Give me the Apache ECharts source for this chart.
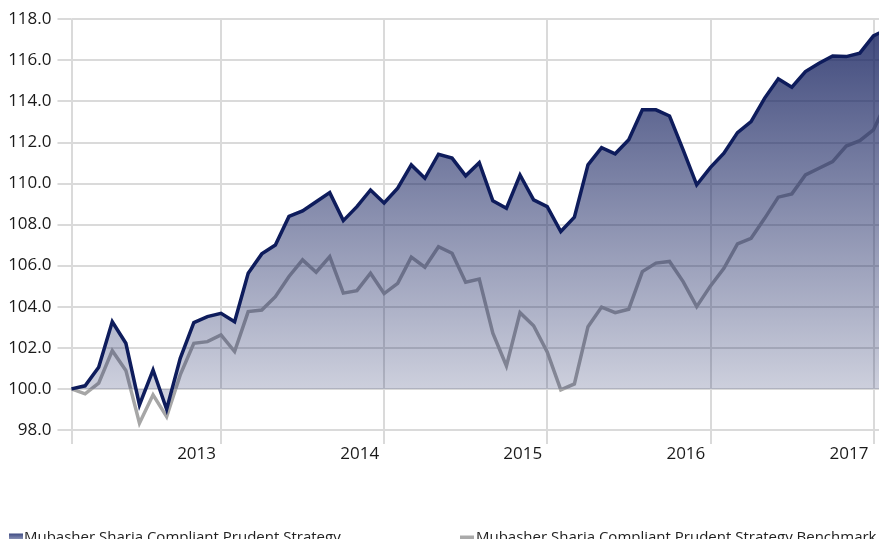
<!DOCTYPE html>
<html>
<head>
<meta charset="utf-8">
<script src="https://cdn.jsdelivr.net/npm/echarts@6/dist/echarts.min.js"></script>
<style>
html, body { margin: 0; padding: 0; background: #fff; }
#chart { width: 879px; height: 539px; }
</style>
</head>
<body>
<div id="chart"></div>
<script>
// monthly points, Feb 2012 .. Feb 2017
var months = [
	'2012-02','2012-03','2012-04','2012-05','2012-06','2012-07','2012-08','2012-09','2012-10','2012-11','2012-12',
	'2013-01','2013-02','2013-03','2013-04','2013-05','2013-06','2013-07','2013-08','2013-09','2013-10','2013-11','2013-12',
	'2014-01','2014-02','2014-03','2014-04','2014-05','2014-06','2014-07','2014-08','2014-09','2014-10','2014-11','2014-12',
	'2015-01','2015-02','2015-03','2015-04','2015-05','2015-06','2015-07','2015-08','2015-09','2015-10','2015-11','2015-12',
	'2016-01','2016-02','2016-03','2016-04','2016-05','2016-06','2016-07','2016-08','2016-09','2016-10','2016-11','2016-12',
	'2017-01','2017-02'
];
var strategy = [
	100.0, 100.15, 101.05, 103.27, 102.22, 99.22, 100.92, 99.01, 101.49, 103.23, 103.52, 103.68,
	103.27, 105.63, 106.57, 107.0, 108.39, 108.66, 109.11, 109.55, 108.19, 108.87, 109.68, 109.05,
	109.77, 110.9, 110.25, 111.42, 111.23, 110.37, 111.01, 109.15, 108.79, 110.41, 109.2, 108.87,
	107.66, 108.36, 110.9, 111.74, 111.44, 112.12, 113.58, 113.58, 113.28, 111.63, 109.93, 110.77,
	111.47, 112.47, 113.01, 114.15, 115.09, 114.68, 115.44, 115.85, 116.2, 116.17, 116.34, 117.18,
	117.5
];
var benchmark = [
	100.0, 99.76, 100.28, 101.86, 100.9, 98.33, 99.71, 98.65, 100.68, 102.22, 102.3, 102.63,
	101.82, 103.76, 103.84, 104.49, 105.47, 106.28, 105.68, 106.44, 104.66, 104.78, 105.63, 104.64,
	105.14, 106.41, 105.92, 106.92, 106.6, 105.19, 105.34, 102.71, 101.12, 103.71, 103.07, 101.8,
	99.95, 100.24, 103.03, 103.98, 103.71, 103.88, 105.71, 106.12, 106.2, 105.22, 104.0, 105.0,
	105.87, 107.06, 107.33, 108.3, 109.33, 109.49, 110.41, 110.74, 111.06, 111.82, 112.08, 112.6,
	114.0
];
var yTicks = { min: 98, max: 118, step: 2 };
var nameMain = 'Mubasher Sharia Compliant Prudent Strategy';
var nameBench = 'Mubasher Sharia Compliant Prudent Strategy Benchmark';

var gridGray = '#dadada';
var font = '"Open Sans", "Noto Sans", sans-serif';

function isYearStart(index, value) {
	return index === 0 || value.slice(5) === '01';
}

var areaFill = new echarts.graphic.LinearGradient(0, 0, 0, 1, [
	{ offset: 0, color: 'rgba(22,34,96,0.82)' },
	{ offset: 1, color: 'rgba(22,34,96,0.18)' }
]);
var iconFill = new echarts.graphic.LinearGradient(0, 0, 0, 1, [
	{ offset: 0, color: '#3d4a82' },
	{ offset: 1, color: '#a9afcb' }
]);

var chart = echarts.init(document.getElementById('chart'));
var option = {
	animation: false,
	backgroundColor: '#fff',
	textStyle: { fontFamily: font },
	grid: {
		left: 71.5, right: -8, top: 19, bottom: 109,
		containLabel: false, outerBoundsMode: 'none'
	},
	legend: [
		{
			left: 4, top: 525,
			itemWidth: 14, itemHeight: 8, itemGap: 4,
			textStyle: { fontSize: 15, color: '#222', fontFamily: font, padding: [0, 0, 0, -4] },
			data: [{ name: nameMain, icon: 'rect', itemStyle: { color: iconFill } }],
			selectedMode: false
		},
		{
			left: 455, top: 525,
			itemWidth: 14, itemHeight: 4, itemGap: 4,
			textStyle: { fontSize: 15, color: '#222', fontFamily: font, padding: [0, 0, 0, -3] },
			data: [{ name: nameBench, icon: 'rect', itemStyle: { color: '#aaaaaa' } }],
			selectedMode: false
		}
	],
	xAxis: {
		type: 'category',
		boundaryGap: false,
		data: months,
		axisLine: { show: true, lineStyle: { color: gridGray, width: 2 } },
		axisTick: { show: true, length: 14, interval: isYearStart, lineStyle: { color: gridGray, width: 2 } },
		splitLine: { show: true, interval: isYearStart, lineStyle: { color: gridGray, width: 2 } },
		axisLabel: {
			interval: function (index, value) { return value.slice(5) === '01'; },
			formatter: function (value) { return value.slice(0, 4); },
			align: 'right',
			padding: [0, 5, 0, 0],
			margin: 16,
			fontSize: 17,
			color: '#1a1a1a',
			fontFamily: font
		}
	},
	yAxis: {
		type: 'value',
		min: yTicks.min,
		max: yTicks.max,
		interval: yTicks.step,
		axisLine: { show: false },
		axisTick: { show: true, length: 14, lineStyle: { color: gridGray, width: 2 } },
		splitLine: { show: true, lineStyle: { color: gridGray, width: 2 } },
		axisLabel: {
			formatter: function (v) { return v.toFixed(1); },
			margin: 20,
			fontSize: 17,
			color: '#1a1a1a',
			fontFamily: font
		}
	},
	series: [
		{
			name: nameBench,
			type: 'line',
			z: 2,
			data: benchmark,
			showSymbol: false,
			symbol: 'none',
			lineStyle: { color: '#a6a6a6', width: 3.5, join: 'miter' },
			itemStyle: { color: '#aaaaaa' }
		},
		{
			name: nameMain,
			type: 'line',
			z: 3,
			data: strategy,
			showSymbol: false,
			symbol: 'none',
			lineStyle: { color: '#0e1c5c', width: 3.5, join: 'miter' },
			itemStyle: { color: '#3d4a82' },
			areaStyle: { origin: 100, color: areaFill, opacity: 1 }
		}
	]
};
chart.setOption(option);
</script>
</body>
</html>
